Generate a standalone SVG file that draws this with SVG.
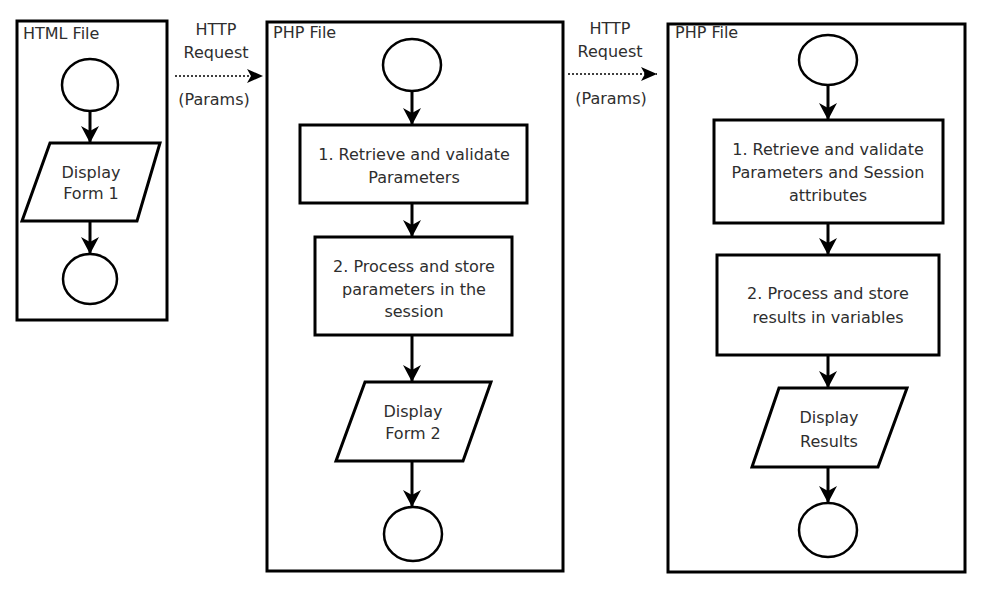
<svg xmlns="http://www.w3.org/2000/svg" width="982" height="592" viewBox="0 0 982 592">
<style>
.frame{fill:none;stroke:#000;stroke-width:3}
.shape{fill:#fff;stroke:#000;stroke-width:3}
.term{fill:#fff;stroke:#000;stroke-width:2.5}
.t{font-family:"DejaVu Sans",Verdana,sans-serif;font-size:16px;fill:#2e2e2e;text-anchor:middle}
.lbl{font-family:"DejaVu Sans",Verdana,sans-serif;font-size:16px;fill:#2e2e2e}
.flow{stroke:#000;stroke-width:3;fill:none;marker-end:url(#ah)}
.req{stroke:#000;stroke-width:1.6;stroke-dasharray:2 2;fill:none;marker-end:url(#ahs)}
</style>
<defs>
<marker id="ah" markerUnits="userSpaceOnUse" markerWidth="18" markerHeight="18" refX="17" refY="9" orient="auto" viewBox="0 0 18 18">
<path d="M0,0 L17,9 L0,18 L5,9 Z" fill="#000"/>
</marker>
<marker id="ahs" markerUnits="userSpaceOnUse" markerWidth="16" markerHeight="14" refX="16" refY="7" orient="auto" viewBox="0 0 16 14">
<path d="M0,0 L16,7 L0,14 L4,7 Z" fill="#000"/>
</marker>
</defs>
<rect width="982" height="592" fill="#fff"/>

<g id="html-file">
<rect class="frame" x="17" y="21" width="150" height="299"/>
<text class="lbl" x="23" y="39">HTML File</text>
</g>
<g id="php-file-1">
<rect class="frame" x="267" y="22" width="296" height="549"/>
<text class="lbl" x="273" y="38">PHP File</text>
</g>
<g id="php-file-2">
<rect class="frame" x="668" y="24" width="297" height="548"/>
<text class="lbl" x="675" y="38">PHP File</text>
</g>

<g id="connectors">
<line class="flow" x1="90" y1="111" x2="90" y2="143"/>
<line class="flow" x1="90" y1="221" x2="90" y2="254"/>
<line class="flow" x1="412" y1="91" x2="412" y2="125"/>
<line class="flow" x1="412" y1="203" x2="412" y2="237"/>
<line class="flow" x1="412" y1="335" x2="412" y2="382"/>
<line class="flow" x1="412" y1="461" x2="412" y2="507"/>
<line class="flow" x1="828" y1="85" x2="828" y2="120"/>
<line class="flow" x1="828" y1="223" x2="828" y2="255"/>
<line class="flow" x1="828" y1="355" x2="828" y2="388"/>
<line class="flow" x1="828" y1="467" x2="828" y2="503"/>
<line class="req" x1="175" y1="76" x2="263" y2="76"/>
<line class="req" x1="568" y1="74" x2="657" y2="74"/>
</g>

<g id="http-request-1">
<text class="t" x="216" y="35">HTTP</text>
<text class="t" x="216" y="58">Request</text>
<text class="t" x="214" y="105">(Params)</text>
</g>
<g id="http-request-2">
<text class="t" x="610" y="34">HTTP</text>
<text class="t" x="610" y="57">Request</text>
<text class="t" x="611" y="104">(Params)</text>
</g>

<g id="html-start"><ellipse class="term" cx="90" cy="85" rx="28" ry="26"/></g>
<g id="display-form-1">
<polygon class="shape" points="50,143 160,143 137,221 22,221"/>
<text class="t" x="91" y="178">Display</text>
<text class="t" x="91" y="199">Form 1</text>
</g>
<g id="html-end"><ellipse class="term" cx="90" cy="279" rx="27" ry="25"/></g>

<g id="php1-start"><ellipse class="term" cx="412" cy="65" rx="29" ry="26"/></g>
<g id="php1-retrieve">
<rect class="shape" x="300" y="125" width="227" height="78"/>
<text class="t" x="414" y="160">1. Retrieve and validate</text>
<text class="t" x="414" y="183">Parameters</text>
</g>
<g id="php1-process">
<rect class="shape" x="315" y="237" width="197" height="98"/>
<text class="t" x="414" y="272">2. Process and store</text>
<text class="t" x="414" y="295">parameters in the</text>
<text class="t" x="414" y="317">session</text>
</g>
<g id="display-form-2">
<polygon class="shape" points="365,382 491,382 463,461 336,461"/>
<text class="t" x="413" y="417">Display</text>
<text class="t" x="413" y="439">Form 2</text>
</g>
<g id="php1-end"><ellipse class="term" cx="413" cy="534" rx="29" ry="27"/></g>

<g id="php2-start"><ellipse class="term" cx="828" cy="60" rx="29" ry="25"/></g>
<g id="php2-retrieve">
<rect class="shape" x="714" y="120" width="229" height="103"/>
<text class="t" x="828" y="155">1. Retrieve and validate</text>
<text class="t" x="828" y="178">Parameters and Session</text>
<text class="t" x="828" y="201">attributes</text>
</g>
<g id="php2-process">
<rect class="shape" x="717" y="255" width="222" height="100"/>
<text class="t" x="828" y="299">2. Process and store</text>
<text class="t" x="828" y="323">results in variables</text>
</g>
<g id="display-results">
<polygon class="shape" points="779,388 907,388 878,467 752,467"/>
<text class="t" x="829" y="423">Display</text>
<text class="t" x="829" y="447">Results</text>
</g>
<g id="php2-end"><ellipse class="term" cx="828" cy="530" rx="29" ry="27"/></g>
</svg>
